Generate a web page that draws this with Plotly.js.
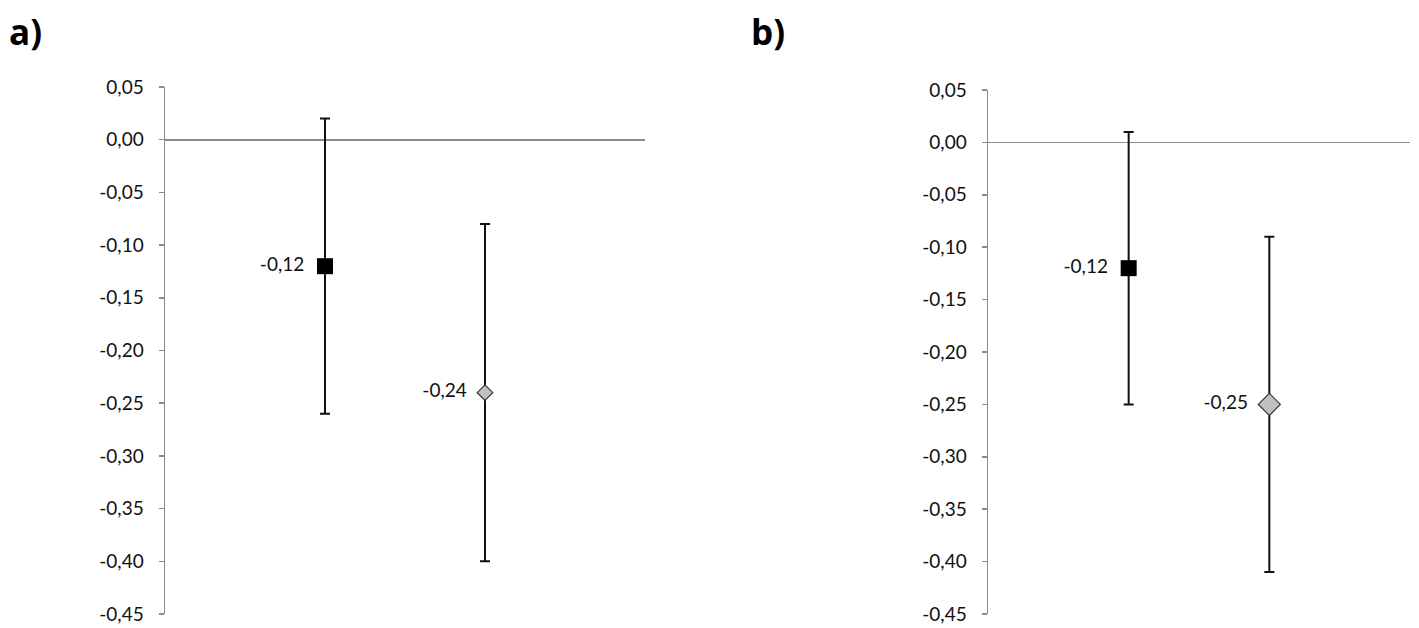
<!DOCTYPE html>
<html>
<head>
<meta charset="utf-8">
<script src="https://cdn.plot.ly/plotly-3.0.1.min.js"></script>
<style>html,body{margin:0;padding:0;background:#fff;}#chart{width:1419px;height:628px;}</style>
</head>
<body>
<div id="chart"></div>
<script>
// Panel a)
const catsX = [1, 2];
const aValues = [-0.12, -0.24];
const aUpper = [0.02, -0.08];
const aLower = [-0.26, -0.40];
const aLabels = ["-0,12", "-0,24"];
// Panel b)
const bValues = [-0.12, -0.25];
const bUpper = [0.01, -0.09];
const bLower = [-0.25, -0.41];
const bLabels = ["-0,12", "-0,25"];
const yTicks = [0.05, 0, -0.05, -0.10, -0.15, -0.20, -0.25, -0.30, -0.35, -0.40, -0.45];
const yTickText = ["0,05", "0,00", "-0,05", "-0,10", "-0,15", "-0,20", "-0,25", "-0,30", "-0,35", "-0,40", "-0,45"];
const panelTitles = ["a)", "b)"];

const FONT = 'Lato, "Open Sans", sans-serif';

function mkTrace(idx, vals, up, lo, labels, xa, ya, symbol, color, size) {
  return {
    x: [catsX[idx]], y: [vals[idx]],
    xaxis: xa, yaxis: ya,
    mode: 'markers+text', type: 'scatter',
    text: [labels[idx] + '\u00a0\u00a0'], textposition: 'middle left',
    textfont: {family: FONT, size: 19, color: '#111'},
    marker: {symbol: symbol, size: size, color: color, line: {color: '#333', width: symbol === 'square' ? 0 : 1.2}},
    error_y: {type: 'data', symmetric: false,
      array: [up[idx] - vals[idx]], arrayminus: [vals[idx] - lo[idx]],
      color: '#111', thickness: 2, width: 5},
    showlegend: false, cliponaxis: false, hoverinfo: 'skip'
  };
}

const traces = [
  mkTrace(0, aValues, aUpper, aLower, aLabels, 'x', 'y', 'square', '#000', 16),
  mkTrace(1, aValues, aUpper, aLower, aLabels, 'x', 'y', 'diamond', '#c0c0c0', 12),
  mkTrace(0, bValues, bUpper, bLower, bLabels, 'x2', 'y2', 'square', '#000', 16),
  mkTrace(1, bValues, bUpper, bLower, bLabels, 'x2', 'y2', 'diamond', '#c0c0c0', 17)
];

function yAx(domain, anchor) {
  return {
    domain: domain, anchor: anchor, range: [-0.45, 0.05],
    tickmode: 'array', tickvals: yTicks, ticktext: yTickText,
    showgrid: false, showline: true, linecolor: '#8c8c8c', linewidth: 1.5,
    ticks: 'outside', ticklen: 5, tickcolor: '#8c8c8c', tickwidth: 1.5,
    zeroline: true, zerolinecolor: '#8c8c8c', zerolinewidth: 1.8,
    tickfont: {family: FONT, size: 19, color: '#111'},
    ticklabelstandoff: 11, fixedrange: true
  };
}
function xAx(domain, anchor) {
  return {domain: domain, anchor: anchor, range: [0, 3], visible: false, showgrid: false, zeroline: false, fixedrange: true};
}

const layout = {
  width: 1419, height: 628,
  margin: {l: 0, r: 0, t: 0, b: 0},
  paper_bgcolor: '#fff', plot_bgcolor: '#fff',
  xaxis: xAx([165/1419, 645/1419], 'y'),
  yaxis: yAx([1 - 614/628, 1 - 87/628], 'x'),
  xaxis2: xAx([988/1419, 1410/1419], 'y2'),
  yaxis2: yAx([1 - 614/628, 1 - 90/628], 'x2'),
  annotations: [
    {text: '<b>' + panelTitles[0] + '</b>', xref: 'paper', yref: 'paper', x: 7/1419, y: 1 - 6/628, xanchor: 'left', yanchor: 'top', showarrow: false, font: {family: '"Open Sans", Lato, sans-serif', size: 35, color: '#000'}},
    {text: '<b>' + panelTitles[1] + '</b>', xref: 'paper', yref: 'paper', x: 749/1419, y: 1 - 6/628, xanchor: 'left', yanchor: 'top', showarrow: false, font: {family: '"Open Sans", Lato, sans-serif', size: 35, color: '#000'}}
  ]
};

Plotly.newPlot('chart', traces, layout, {displayModeBar: false, staticPlot: true});
</script>
</body>
</html>
